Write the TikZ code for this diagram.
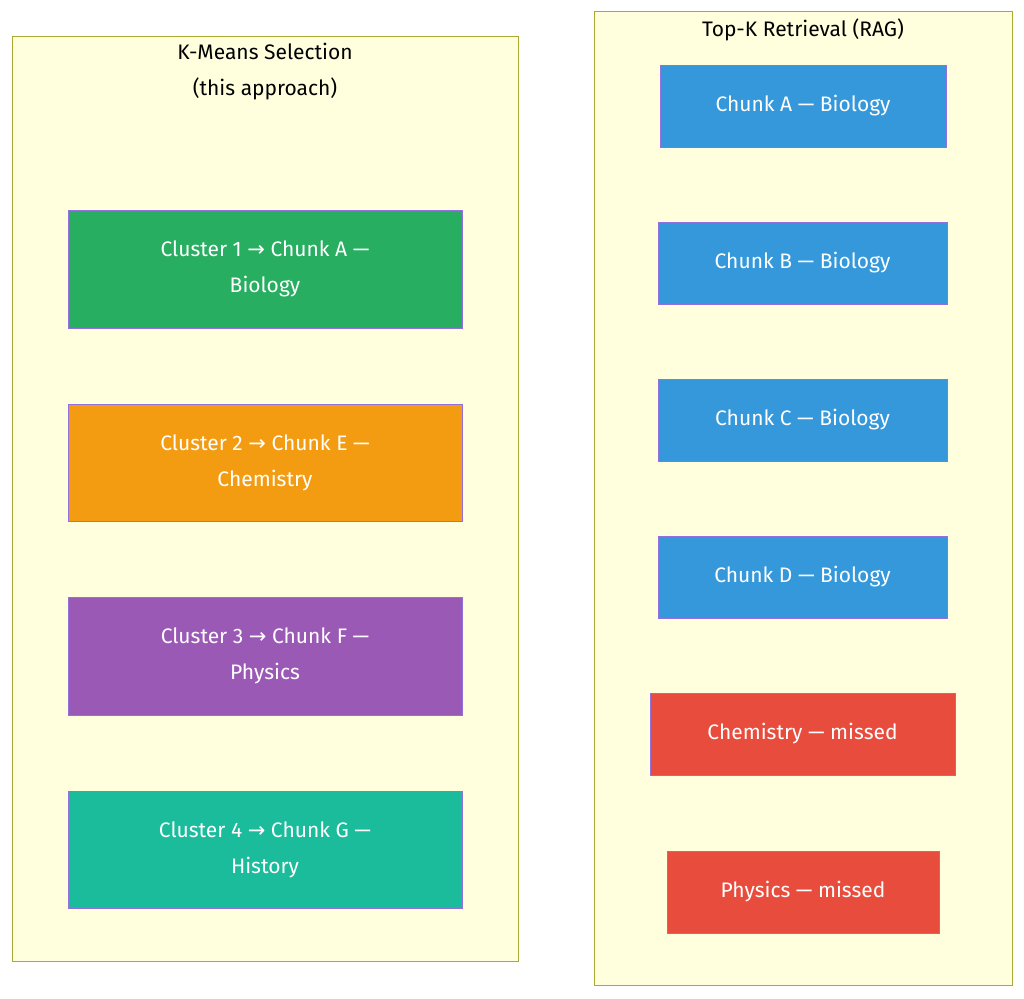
\documentclass[tikz,border=0pt]{standalone}
\usepackage{fontspec}
\setmainfont{Fira Sans}
\newfontfamily\arr{DejaVu Sans}
\newcommand{\ra}{{\arr →}}
\begin{document}
\begin{tikzpicture}[x=1pt,y=-1pt,
  clus/.style={draw=cl,fill=cb,line width=1pt},
  box/.style={draw=bd,line width=1pt,text=white,font=\fontsize{21}{36}\selectfont,align=center},
  ttl/.style={font=\fontsize{21}{36}\selectfont,text=black,align=center}]
\definecolor{cl}{HTML}{AAAA33}\definecolor{cb}{HTML}{FFFFDE}\definecolor{bd}{HTML}{9370DB}
\definecolor{g1}{HTML}{27AE60}\definecolor{o1}{HTML}{F39C12}\definecolor{p1}{HTML}{9B59B6}
\definecolor{t1}{HTML}{1ABC9C}\definecolor{b1}{HTML}{3498DB}\definecolor{r1}{HTML}{E74C3C}
\useasboundingbox (0,0) rectangle (1024,998);
\fill[white] (0,0) rectangle (1024,998);
\draw[clus] (12,37) rectangle (518,961);
\draw[clus] (594,12) rectangle (1012,985);
\node[ttl] (t1) at (265,72) {K-Means Selection\\(this approach)};
\node[ttl] (t2) at (803,30) {Top-K Retrieval (RAG)};
\def\bx#1#2#3#4#5#6#7{\draw[box,fill=#6] (#2,#3) rectangle (#4,#5) node[midway] (#1) {#7};}
\bx{k1}{68}{210}{462}{328}{g1}{Cluster 1 \ra\ Chunk A —\\Biology}
\bx{k2}{68}{404}{462}{521}{o1}{Cluster 2 \ra\ Chunk E —\\Chemistry}
\bx{k3}{68}{597}{462}{715}{p1}{Cluster 3 \ra\ Chunk F —\\Physics}
\bx{k4}{68}{791}{462}{908}{t1}{Cluster 4 \ra\ Chunk G —\\History}
\bx{ra}{660}{65}{946}{147}{b1}{Chunk A — Biology}
\bx{rb}{658}{222}{947}{304}{b1}{Chunk B — Biology}
\bx{rc}{658}{379}{947}{461}{b1}{Chunk C — Biology}
\bx{rd}{658}{536}{947}{618}{b1}{Chunk D — Biology}
\bx{re}{650}{693}{955}{775}{r1}{Chemistry — missed}
\bx{rf}{667}{851}{939}{933}{r1}{Physics — missed}
\end{tikzpicture}
\end{document}
